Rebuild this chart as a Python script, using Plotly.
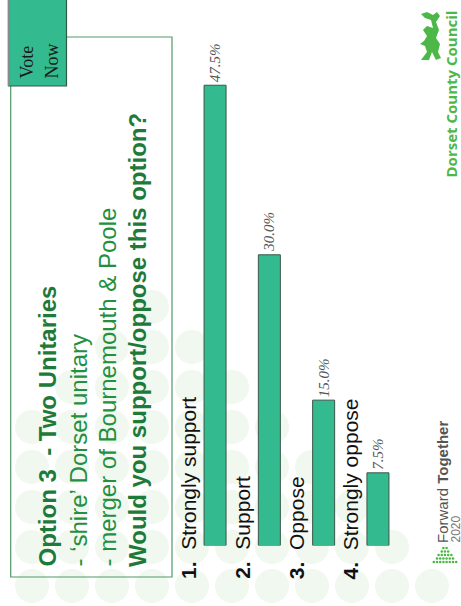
import plotly.graph_objects as go

# ---- data ----
categories = ["Strongly support", "Support", "Oppose", "Strongly oppose"]
numbers = ["1.", "2.", "3.", "4."]
values = [47.5, 30.0, 15.0, 7.5]
value_labels = ["47.5%", "30.0%", "15.0%", "7.5%"]

W, H = 461, 606
def X(px):
    return px / W
def Y(py):
    return 1 - py / H

TEAL = "#33BB8F"
DGREEN = "#1e7a38"
LGREEN = "#4DB848"

fig = go.Figure()
fig.add_trace(go.Bar(
    x=list(range(len(categories))), y=values,
    marker=dict(color=TEAL, line=dict(color="#3a5548", width=1)),
    text=value_labels, textposition="outside", textangle=-90,
    constraintext="none",
    textfont=dict(family="Liberation Serif", size=15, color="#555555", style="italic"),
    cliponaxis=False, width=0.405,
))

base_py = 545.5
px_per_unit = 9.69
ytop = base_py / px_per_unit

fig.update_layout(
    width=W, height=H, margin=dict(l=0, r=0, t=0, b=0),
    paper_bgcolor="white", plot_bgcolor="rgba(0,0,0,0)",
    showlegend=False,
    xaxis=dict(domain=[X(187.9), X(405.1)], range=[-0.5, 3.5], visible=False, fixedrange=True),
    yaxis=dict(domain=[Y(base_py), 1], range=[0, ytop], visible=False, fixedrange=True),
)

shapes = []
# background dot pyramid
rows_y = [307, 347, 387, 427, 467, 507, 547, 586]
r = 17
for n, cy in enumerate(rows_y):
    cx = 152 - 40 * n
    while cx <= 152 + 40 * n:
        if cx >= 32:
            shapes.append(dict(type="circle", xref="paper", yref="paper", layer="below",
                               x0=X(cx - r), x1=X(cx + r), y0=Y(cy + r), y1=Y(cy - r),
                               fillcolor="#f1f8ef", line=dict(width=0)))
        cx += 40
# title box
shapes.append(dict(type="rect", xref="paper", yref="paper", layer="above",
                   x0=X(10.7), x1=X(172), y0=Y(577), y1=Y(37),
                   line=dict(color="#4f9a68", width=1.2), fillcolor="rgba(0,0,0,0)"))
# vote now box
shapes.append(dict(type="rect", xref="paper", yref="paper", layer="above",
                   x0=X(8.5), x1=X(66.5), y0=Y(86), y1=Y(-2),
                   line=dict(color="#2f5a4a", width=1.2), fillcolor=TEAL))
shapes.append(dict(type="line", xref="paper", yref="paper", layer="above",
                   x0=X(8.5), x1=X(8.5), y0=Y(86), y1=Y(0),
                   line=dict(color="#8a8a8a", width=1.6)))
# Forward Together dots icon
dot_rows = [(548, 2), (551.5, 3), (555, 5), (558.5, 6), (562, 8)]
for cy, cnt in dot_rows:
    for k in range(cnt):
        cx = 445 - (cnt - 1) * 1.6 + k * 3.2
        shapes.append(dict(type="circle", xref="paper", yref="paper", layer="above",
                           x0=X(cx - 1.3), x1=X(cx + 1.3), y0=Y(cy + 1.3), y1=Y(cy - 1.3),
                           fillcolor="#4DB848", line=dict(width=0)))
# crude lion emblem
lion = ("M 421 60 L 427 52 L 425 46 L 420 44 L 424 41 L 427 36 L 423 30 L 427 26 "
        "L 433 28 L 431 20 L 425 18 L 421 14 L 427 12 L 433 15 L 437 12 L 440 16 L 436 22 "
        "L 439 30 L 436 38 L 440 44 L 438 52 L 441 58 L 436 60 L 432 52 L 429 60 Z")
def conv_path(p):
    toks = p.split()
    out = []
    i = 0
    while i < len(toks):
        t = toks[i]
        if t in ("M", "L"):
            out.append(f"{t} {X(float(toks[i+1])):.5f},{Y(float(toks[i+2])):.5f}")
            i += 3
        else:
            out.append(t)
            i += 1
    return " ".join(out)
shapes.append(dict(type="path", xref="paper", yref="paper", path=conv_path(lion),
                   fillcolor=LGREEN, line=dict(width=0)))
fig.update_layout(shapes=shapes)

ann = []
def rot_text(text, cx, bottom_py, size, color, family="Liberation Sans", **kw):
    ann.append(dict(text=text, x=X(cx), y=Y(bottom_py), xref="paper", yref="paper",
                    xanchor="center", yanchor="bottom", textangle=-90, showarrow=False,
                    align="left", font=dict(family=family, size=size, color=color, **kw),
                    borderpad=0))

# title lines
rot_text("<b>Option 3&nbsp;&nbsp;- Two Unitaries</b>", 47, 568, 24, DGREEN)
rot_text("- \u2018shire\u2019 Dorset unitary", 78, 568, 24, "#23903f")
rot_text("- merger of Bournemouth &amp; Poole", 107, 568, 24, "#23903f")
rot_text("<b>Would you support/oppose this option?</b>", 137, 568, 24, DGREEN)
# vote now
rot_text("Vote", 26, 80, 18, "#1a1a1a", family="Liberation Serif")
rot_text("Now", 51, 80, 18, "#1a1a1a", family="Liberation Serif")
# category labels next to bars
for i, (num, cat) in enumerate(zip(numbers, categories)):
    ann.append(dict(text=f"<b>{num}</b>&nbsp;&nbsp;{cat}", x=i, xref="x", xshift=-27,
                    y=Y(580), yref="paper", xanchor="center", yanchor="bottom",
                    textangle=-90, showarrow=False,
                    font=dict(family="Liberation Sans", size=21, color="#111111"),
                    borderpad=0))
# logos
rot_text("<b>Dorset County Council</b>", 451, 179, 15, LGREEN, family="Open Sans")
rot_text("Forward <b>Together</b>", 442, 544, 15, "#555555")
rot_text("2020", 455, 544, 12, "#777777")

fig.update_layout(annotations=ann)
fig.write_html("out.html")
